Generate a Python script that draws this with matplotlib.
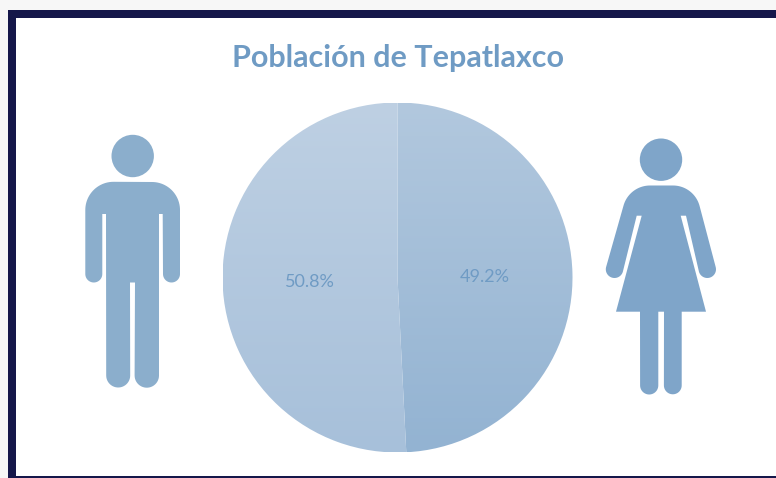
import numpy as np
import matplotlib.pyplot as plt
from matplotlib.colors import LinearSegmentedColormap
from matplotlib.patches import Polygon, Circle, Rectangle

# --- DADOS ---
TITULO = "Población de Tepatlaxco"
grupos = ["Hombres", "Mujeres"]
porcentajes = [49.2, 50.8]
# -------------

COR_TEXTO = "#6F9BC4"
COR_MOLDURA = "#15174A"
GRADIENTES = [("#B2C8DE", "#93B3D2"), ("#BED0E3", "#A7C0DA")]

W, H = 776, 478
plt.rcParams["font.family"] = ["Lato", "DejaVu Sans"]


def arco(cx, cy, r, a0, a1, n=24):
    # angulos em graus, y da tela cresce para baixo
    t = np.radians(np.linspace(a0, a1, n))
    return np.column_stack([cx + r * np.cos(t), cy + r * np.sin(t)])


def homem():
    return np.vstack([
        arco(113.5, 210, 28.2, 180, 270),
        arco(152, 210, 28, 270, 360),
        arco(171.5, 274, 8.5, 0, 180),
        [[162.7, 214], [159, 214]],
        arco(146.8, 375.5, 12.2, 0, 180),
        [[135, 282.5], [130, 282.5]],
        arco(118.2, 375.5, 12, 0, 180),
        [[106, 214], [102.3, 214]],
        arco(93.8, 274, 8.5, 0, 180),
    ])


def mulher():
    return np.vstack([
        arco(650, 213, 27.5, 195, 270),
        arco(673, 213, 27.5, 270, 345),
        arco(707.3, 269.3, 8.7, -17, 163),
        [[686, 215.7], [680.7, 215.7], [706, 311.7], [681.7, 311.7]],
        arco(672.8, 385.4, 8.9, 0, 180),
        [[664, 311.7], [658.3, 311.7]],
        arco(649.2, 385.4, 9.1, 0, 180),
        [[640, 311.7], [616, 311.7], [641.7, 215.7], [636.7, 215.7]],
        arco(614.5, 269.3, 8.7, 17, 197),
    ])


fig = plt.figure(figsize=(W / 100, H / 100), dpi=100, facecolor="#F7F7F7")

# Camada de fundo em coordenadas de pixel
fundo = fig.add_axes([0, 0, 1, 1])
fundo.set_xlim(0, W)
fundo.set_ylim(H, 0)
fundo.axis("off")
fundo.add_patch(Rectangle((8, 10), W, H, fc=COR_MOLDURA, ec="none"))
fundo.add_patch(Rectangle((16, 18), W, 458, fc="white", ec="none"))

# Figuras
fundo.add_patch(Circle((132.7, 156), 21.2, fc="#8BAECC", ec="none"))
fundo.add_patch(Polygon(homem(), closed=True, fc="#8BAECC", ec="none"))
fundo.add_patch(Circle((661, 159.7), 21.2, fc="#7FA5C9", ec="none"))
fundo.add_patch(Polygon(mulher(), closed=True, fc="#7FA5C9", ec="none"))

fundo.text(398, 58, TITULO, color=COR_TEXTO, fontsize=22, fontweight="bold",
           ha="center", va="center")

# Pizza
ax = fig.add_axes([222.5 / W, 1 - 452.5 / H, 350 / W, 350 / H])
wedges, textos, pcts = ax.pie(porcentajes, startangle=90, counterclock=False, radius=1,
                              autopct="%.1f%%", pctdistance=0.5,
                              textprops={"color": COR_TEXTO, "fontsize": 13})
# rotulos um pouco abaixo do centro da fatia
for p in pcts:
    x, y = p.get_position()
    p.set_position((x, y - 0.012))
for cunha, (c0, c1) in zip(wedges, GRADIENTES):
    cunha.set_facecolor("none")
    cunha.set_edgecolor("none")
    cmap = LinearSegmentedColormap.from_list("g", [c0, c1])
    img = ax.imshow(np.linspace(0, 1, 256).reshape(-1, 1), cmap=cmap, aspect="auto",
                    extent=(-1, 1, -1, 1), origin="upper", zorder=1.5)
    img.set_clip_path(cunha)
ax.set_xlim(-1, 1)
ax.set_ylim(-1, 1)
ax.set_aspect("auto")
ax.axis("off")
ax.patch.set_alpha(0)

plt.savefig("out.png", dpi=100, facecolor=fig.get_facecolor())
plt.close()
